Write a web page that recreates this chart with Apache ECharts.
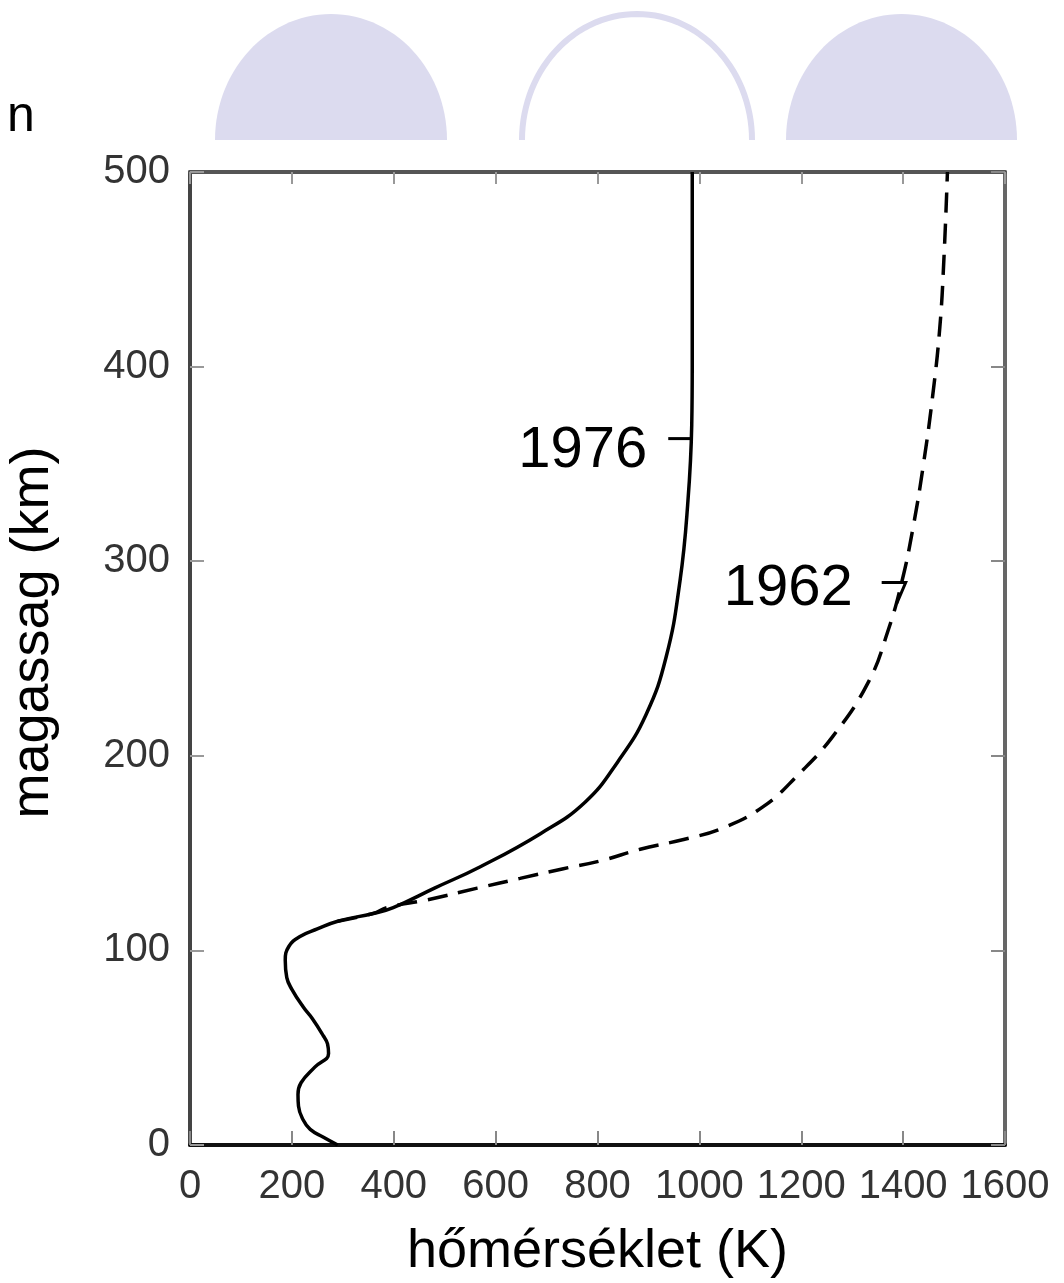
<!DOCTYPE html>
<html><head><meta charset="utf-8">
<script src="https://cdn.jsdelivr.net/npm/echarts@6/dist/echarts.min.js"></script>
<style>html,body{margin:0;padding:0;background:#fff}#c{width:1064px;height:1283px}</style>
</head><body><div id="c"></div>
<script>
// ---- data ----
const xTickValues = [0, 200, 400, 600, 800, 1000, 1200, 1400, 1600];
const yTickValues = [0, 100, 200, 300, 400, 500];
const xTitle = 'hőmérséklet (K)';
const yTitle = 'magassag (km)';
const seriesNames = ['1976', '1962'];
// 1976 profile: temperature (K) vs altitude (km)
const temp1976 = [290, 262, 236, 222, 213, 212, 218, 245, 272, 270, 262, 240, 222, 200, 190, 187, 194, 215, 250, 290, 360, 399, 480, 570, 688, 775, 840, 895, 935, 962, 977, 985, 986, 986];
const alt1976  = [0, 4, 8, 13, 20, 26, 32, 40, 47, 52, 56, 65, 71, 80, 86, 95, 102, 107, 111, 115, 119, 122, 132, 143, 160, 176, 197, 221, 251, 290, 329, 370, 400, 500];
// 1962 profile (diverges above ~120 km)
const temp1962 = [290, 360, 387, 466, 564, 648, 733, 806, 884, 969, 1047, 1126, 1193, 1262, 1332, 1370, 1398, 1420, 1440, 1458, 1472, 1480, 1487];
const alt1962  = [115, 119, 122, 126, 132, 137, 142, 146, 152, 157, 163, 174, 190, 210, 238, 264, 290, 318, 350, 385, 420, 455, 500];
// label anchor points (where the leader lines touch)
const labelTemps = [986, 1405];
const labelAlts = [363, 289];

const FONT = '"Liberation Sans", Arial, sans-serif';
const chart = echarts.init(document.getElementById('c'), null, {renderer: 'canvas'});

const s1976 = temp1976.map((t, i) => [t, alt1976[i]]);
const s1962 = temp1962.map((t, i) => [t, alt1962[i]]);

const baseX = {type: 'value', min: xTickValues[0], max: xTickValues[xTickValues.length - 1], interval: 200, splitLine: {show: false}};
const baseY = {type: 'value', min: yTickValues[0], max: yTickValues[yTickValues.length - 1], interval: 100, splitLine: {show: false}};

const option = {
  backgroundColor: '#ffffff',
  animation: false,
  grid: {left: 190, right: 59, top: 172, bottom: 138, containLabel: false, outerBoundsMode: 'none'},
  xAxis: [
    Object.assign({}, baseX, {
      position: 'bottom',
      name: xTitle, nameLocation: 'middle', nameGap: 80,
      nameTextStyle: {fontFamily: FONT, fontSize: 54, color: '#000', verticalAlign: 'top'},
      axisLine: {onZero: false, lineStyle: {color: '#111', width: 4}},
      axisTick: {inside: true, length: 14, lineStyle: {color: '#888', width: 2}},
      axisLabel: {fontFamily: FONT, fontSize: 40, color: '#333', margin: 22, formatter: v => String(v)}
    }),
    Object.assign({}, baseX, {
      position: 'top',
      axisLine: {onZero: false, lineStyle: {color: '#555', width: 4}},
      axisTick: {inside: true, length: 12, lineStyle: {color: '#999', width: 2}},
      axisLabel: {show: false}
    })
  ],
  yAxis: [
    Object.assign({}, baseY, {
      position: 'left',
      name: yTitle, nameLocation: 'middle', nameGap: 130, nameRotate: 90,
      nameTextStyle: {fontFamily: FONT, fontSize: 54, color: '#000', padding: [0, 0, 0, 52]},
      axisLine: {onZero: false, lineStyle: {color: '#444', width: 4}},
      axisTick: {inside: true, length: 14, lineStyle: {color: '#999', width: 2}},
      axisLabel: {fontFamily: FONT, fontSize: 40, color: '#333', margin: 20, formatter: v => String(v)}
    }),
    Object.assign({}, baseY, {
      position: 'right',
      axisLine: {onZero: false, lineStyle: {color: '#666', width: 4}},
      axisTick: {inside: true, length: 14, lineStyle: {color: '#888', width: 2}},
      axisLabel: {show: false}
    })
  ],
  series: [
    {name: seriesNames[0], type: 'line', xAxisIndex: 0, yAxisIndex: 0, data: s1976, smooth: 0.45, showSymbol: false, symbol: 'none',
      lineStyle: {color: '#000', width: 3.5}, z: 3},
    {name: seriesNames[1], type: 'line', xAxisIndex: 0, yAxisIndex: 0, data: s1962, smooth: 0.45, showSymbol: false, symbol: 'none',
      lineStyle: {color: '#000', width: 3.5, type: [20, 11]}, z: 3}
  ]
};
chart.setOption(option);

// decorative half-ellipses at the top of the slide
function halfEllipse(x0, x1, yBase, ry) {
  const cx = (x0 + x1) / 2, rx = (x1 - x0) / 2, pts = [];
  for (let i = 0; i <= 60; i++) {
    const a = Math.PI * i / 60;
    pts.push([cx - rx * Math.cos(a), yBase - ry * Math.sin(a)]);
  }
  return pts;
}
const p1 = chart.convertToPixel({xAxisIndex: 0, yAxisIndex: 0}, [labelTemps[0], labelAlts[0]]);
const p2 = chart.convertToPixel({xAxisIndex: 0, yAxisIndex: 0}, [labelTemps[1], labelAlts[1]]);
const lav = '#dcdbef';
chart.setOption({
  graphic: [
    {type: 'polygon', shape: {points: halfEllipse(215, 447, 140, 126)}, style: {fill: lav}, z: -1},
    {type: 'polyline', shape: {points: halfEllipse(522, 752, 140, 126)}, style: {fill: null, stroke: lav, lineWidth: 6}, z: -1},
    {type: 'polygon', shape: {points: halfEllipse(786, 1017, 140, 126)}, style: {fill: lav}, z: -1},
    {type: 'text', x: 7, y: 92, style: {text: 'n', fontFamily: FONT, fontSize: 50, fill: '#000'}},
    {type: 'line', shape: {x1: p1[0] - 24, y1: p1[1], x2: p1[0], y2: p1[1]}, style: {stroke: '#000', lineWidth: 3}},
    {type: 'text', x: p1[0] - 45, y: p1[1] + 12, style: {text: seriesNames[0], fontFamily: FONT, fontSize: 58, fill: '#000', align: 'right', verticalAlign: 'middle'}},
    {type: 'polyline', shape: {points: [[p2[0] - 24, p2[1]], [p2[0], p2[1]], [p2[0] - 9, p2[1] + 21]]}, style: {stroke: '#000', lineWidth: 3, fill: null}},
    {type: 'text', x: p2[0] - 53, y: p2[1] + 6, style: {text: seriesNames[1], fontFamily: FONT, fontSize: 58, fill: '#000', align: 'right', verticalAlign: 'middle'}}
  ]
});
</script>
</body></html>
